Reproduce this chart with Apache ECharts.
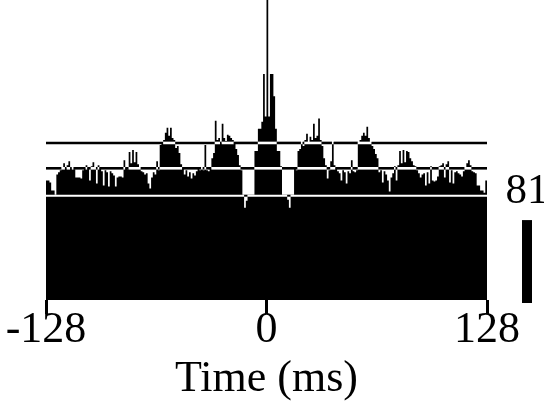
<!DOCTYPE html>
<html>
<head>
<meta charset="utf-8">
<script src="https://cdn.jsdelivr.net/npm/echarts@6/dist/echarts.min.js"></script>
<style>
  html, body { margin: 0; padding: 0; background: #fff; }
  #chart { width: 544px; height: 406px; }
</style>
</head>
<body>
<div id="chart"></div>
<script>
// Cross-correlogram, 1 ms bins from -128 ms to +128 ms (counts per bin)
const binStart = -128;

// bins -128 .. -15
const leftFlank = [
  118, 118, 116, 108, 108, 104, 124, 126, 128, 131,
  135, 130, 133, 137, 130, 131, 129, 121, 121, 121,
  120, 128, 130, 133, 130, 118, 132, 136, 131, 115,
  133, 130, 127, 113, 128, 126, 112, 127, 125, 123,
  112, 121, 122, 122, 121, 138, 130, 129, 146, 135,
  148, 136, 146, 134, 131, 127, 126, 124, 125, 115,
  110, 121, 126, 124, 137, 128, 153, 155, 158, 165,
  170, 162, 170, 160, 158, 150, 152, 145, 134, 130,
  124, 128, 122, 126, 120, 125, 123, 127, 130, 128,
  131, 128, 153, 128, 127, 130, 140, 145, 177, 158,
  160, 155, 174, 160, 157, 163, 162, 160, 158, 155,
  149, 143, 133, 128
];

// bins -14 .. 15
const centralPeak = [
  104, 91, 98, 104, 104, 104, 104, 147, 147, 169,
  169, 176, 223, 181, 296, 181, 223, 223, 201, 169,
  147, 147, 132, 104, 104, 104, 99, 91, 104, 104
];

// bins 16 .. 127
const rightFlank = [
  130, 128, 147, 149, 156, 152, 158, 164, 156, 161,
  158, 174, 160, 162, 179, 158, 152, 140, 133, 120,
  128, 137, 156, 133, 130, 127, 125, 118, 128, 126,
  115, 127, 125, 138, 127, 126, 128, 156, 158, 162,
  165, 162, 171, 160, 156, 152, 149, 144, 140, 126,
  128, 116, 127, 124, 118, 107, 121, 125, 132, 118,
  133, 147, 135, 148, 136, 147, 146, 140, 137, 133,
  132, 128, 125, 121, 124, 125, 113, 126, 115, 132,
  118, 117, 118, 122, 132, 133, 135, 121, 134, 137,
  116, 128, 115, 126, 127, 125, 124, 122, 127, 131,
  135, 138, 133, 127, 126, 125, 113, 113, 108, 108,
  106, 118
];

// significance levels (counts)
const levels = [155, 130, 103];
const levelLineWidths = [2.6, 2.6, 2];

const tickValues = [-128, 0, 128];
const scaleBarCount = 81;
const countMax = 296;

const counts = leftFlank.concat(centralPeak, rightFlank);
const binEnd = binStart + counts.length;

// Split each level line into runs: white where the bins rise above it, black elsewhere
const levelRuns = [];
levels.forEach((lv, li) => {
  let runStart = binStart;
  let above = counts[0] > lv;
  for (let i = 1; i <= counts.length; i++) {
    const nowAbove = i < counts.length ? counts[i] > lv : !above;
    if (i === counts.length || nowAbove !== above) {
      levelRuns.push([runStart, binStart + i, lv, above ? 1 : 0, li]);
      runStart = binStart + i;
      above = nowAbove;
    }
  }
});

const serif = 'Liberation Serif';
const chart = echarts.init(document.getElementById('chart'), null, { renderer: 'canvas' });

chart.setOption({
  animation: false,
  backgroundColor: '#fff',
  grid: [
    { left: 46, right: 57, top: 0, bottom: 103 },
    { left: 522, width: 10, top: 0, bottom: 103 }
  ],
  xAxis: [
    {
      gridIndex: 0,
      type: 'value',
      min: tickValues[0],
      max: tickValues[tickValues.length - 1],
      interval: 128,
      axisLine: { show: false },
      splitLine: { show: false },
      axisTick: { show: true, length: 14, lineStyle: { color: '#000', width: 3 } },
      axisLabel: {
        show: true, margin: 8, color: '#000', fontSize: 44, fontFamily: serif,
        showMinLabel: true, showMaxLabel: true
      },
      name: 'Time (ms)',
      nameLocation: 'middle',
      nameGap: 48,
      nameTextStyle: { color: '#000', fontSize: 44, fontFamily: serif }
    },
    {
      gridIndex: 1,
      type: 'category',
      data: ['scale'],
      show: false
    }
  ],
  yAxis: [
    { gridIndex: 0, type: 'value', min: 0, max: countMax, show: false, splitLine: { show: false } },
    { gridIndex: 1, type: 'value', min: 0, max: countMax, show: false, splitLine: { show: false } }
  ],
  series: [
    {
      // histogram drawn as one stepped outline so adjacent bins leave no seams
      type: 'custom',
      xAxisIndex: 0, yAxisIndex: 0,
      data: counts.map((c, i) => [binStart + i, c]),
      encode: { x: 0, y: 1 },
      silent: true,
      z: 2,
      renderItem: function (params, api) {
        if (params.dataIndex !== 0) return null;
        const pts = [api.coord([binStart, 0])];
        counts.forEach((c, i) => {
          pts.push(api.coord([binStart + i, c]));
          pts.push(api.coord([binStart + i + 1, c]));
        });
        pts.push(api.coord([binEnd, 0]));
        return { type: 'polygon', shape: { points: pts }, style: { fill: '#000' } };
      }
    },
    {
      type: 'custom',
      xAxisIndex: 0, yAxisIndex: 0,
      data: levelRuns,
      encode: { x: [0, 1], y: 2 },
      silent: true,
      z: 5,
      renderItem: function (params, api) {
        const a = api.coord([api.value(0), api.value(2)]);
        const b = api.coord([api.value(1), api.value(2)]);
        return {
          type: 'line',
          shape: { x1: a[0], y1: a[1], x2: b[0], y2: b[1] },
          style: {
            stroke: api.value(3) ? '#fff' : '#000',
            lineWidth: levelLineWidths[api.value(4)],
            lineCap: 'butt'
          }
        };
      }
    },
    {
      type: 'bar',
      xAxisIndex: 1, yAxisIndex: 1,
      data: [scaleBarCount],
      barWidth: '100%',
      itemStyle: { color: '#000' },
      silent: true,
      label: {
        show: true,
        position: 'top',
        distance: 7,
        color: '#000',
        fontSize: 43,
        fontFamily: serif,
        formatter: String(scaleBarCount)
      }
    }
  ]
});
</script>
</body>
</html>
